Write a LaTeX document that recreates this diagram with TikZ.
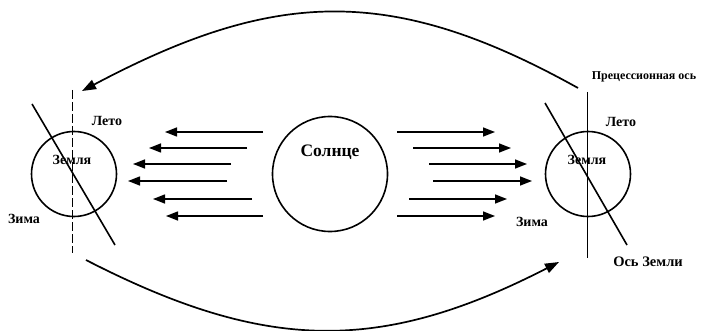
\documentclass[tikz,border=0pt]{standalone}
\usepackage{fontspec}
\setmainfont{Liberation Serif}
\usetikzlibrary{arrows.meta, positioning}

\begin{document}
\begin{tikzpicture}[x=1pt, y=-1pt,
		ray/.style={line width=1.4pt, -{Triangle[length=12pt, width=9pt]}},
		orbit/.style={line width=1.7pt, -{Triangle[length=14pt, width=10pt]}},
		body/.style={circle, draw, line width=1.6pt, inner sep=0pt},
		axis/.style={line width=1.6pt},
		lbl/.style={font=\bfseries\fontsize{14}{14}\selectfont, inner sep=0pt}]
				\useasboundingbox (0,0) rectangle (703,331);
				% Paths, nodes and wires:
				\node[body, minimum size=115pt](Sun) at (330,174){};
				\node[lbl, font=\bfseries\fontsize{17.5}{17.5}\selectfont](SunT) at (330,152){Солнце};
				\node[body, minimum size=85pt](EarthL) at (74,174){};
				\node[body, minimum size=85pt](EarthR) at (588,174){};
				\foreach \y/\a/\b/\c/\d in {132/263/165/397/495, 148/247/149/413/511, 164/231/133/429/527, 181/227/128/433/532, 199/252/153/409/507, 216/263/166/397/495}{
					\draw[ray] (\a,\y) -- (\b,\y);
					\draw[ray] (\c,\y) -- (\d,\y);
				}
				\coordinate (PrecL1) at (72,90);
				\coordinate (PrecL2) at (72,253);
				\draw[line width=0.8pt, dash pattern=on 9pt off 3pt] (PrecL1) -- (PrecL2);
				\coordinate (PrecR1) at (587,92);
				\coordinate (PrecR2) at (587,258);
				\draw[line width=0.9pt] (PrecR1) -- (PrecR2);
				\coordinate (AxisL1) at (32,104);
				\coordinate (AxisL2) at (115,245);
				\draw[axis] (AxisL1) -- (AxisL2);
				\coordinate (AxisR1) at (545,103);
				\coordinate (AxisR2) at (627,245);
				\draw[axis] (AxisR1) -- (AxisR2);
				\node[lbl](ZemlyaL) at (72,160){Земля};
				\node[lbl](LetoL) at (107,121){Лето};
				\node[lbl](ZimaL) at (24,219){Зима};
				\node[lbl](ZemlyaR) at (587,160){Земля};
				\node[lbl](LetoR) at (621,122){Лето};
				\node[lbl](ZimaR) at (532,222){Зима};
				\node[lbl, font=\bfseries\fontsize{14.5}{14.5}\selectfont](AxisT) at (648,262){Ось Земли};
				\node[lbl, font=\bfseries\fontsize{12}{12}\selectfont](PrecT) at (644,77){Прецессионная ось};
				\coordinate (TopA) at (578,88);
				\coordinate (TopB) at (82,91);
				\draw[orbit] (TopA) .. controls (393,-15) and (276,-12) .. (TopB);
				\coordinate (BotA) at (86,260);
				\coordinate (BotB) at (559,262);
				\draw[orbit] (BotA) .. controls (265,352) and (380,354) .. (BotB);
			\end{tikzpicture}
\end{document}
